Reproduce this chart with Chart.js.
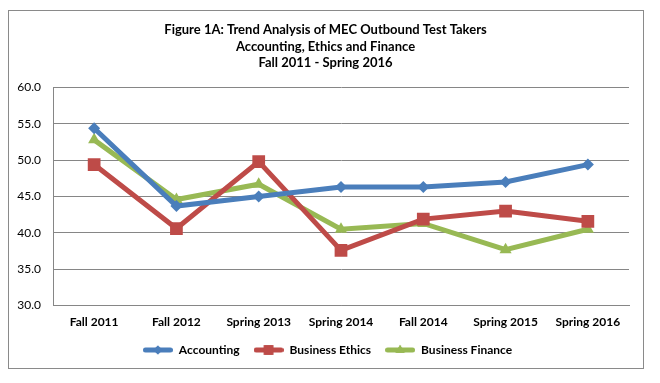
<!DOCTYPE html>
<html>
<head>
<meta charset="utf-8">
<script src="https://cdn.jsdelivr.net/npm/chart.js@4"></script>
<style>
html,body{margin:0;padding:0;background:#fff;}
#wrap{width:660px;height:383px;position:relative;}
</style>
</head>
<body>
<div id="wrap"><canvas id="c" width="660" height="383"></canvas></div>
<script>
const categories = ["Fall 2011","Fall 2012","Spring 2013","Spring 2014","Fall 2014","Spring 2015","Spring 2016"];
const accounting = [54.4, 43.7, 45.0, 46.3, 46.3, 47.0, 49.4];
const businessEthics = [49.4, 40.6, 49.8, 37.6, 41.9, 43.0, 41.6];
const businessFinance = [52.8, 44.6, 46.7, 40.5, 41.3, 37.7, 40.5];
const yTicks = [30, 35, 40, 45, 50, 55, 60];
const titleLines = ["Figure 1A: Trend Analysis of MEC Outbound Test Takers","Accounting, Ethics and Finance","Fall 2011 - Spring 2016"];

const BLUE = '#4A7EBB', RED = '#BE4B48', GREEN = '#98B954';
const FONT = "Lato, 'Liberation Sans', sans-serif";

function legendIcon(color, style, r) {
  const cv = document.createElement('canvas');
  cv.width = 30; cv.height = 16;
  const g = cv.getContext('2d');
  g.strokeStyle = color; g.lineWidth = 5; g.lineCap = 'round';
  g.beginPath(); g.moveTo(2.5, 8); g.lineTo(27.5, 8); g.stroke();
  g.fillStyle = color;
  Chart.helpers.drawPoint(g, {pointStyle: style, radius: r, rotation: 0, borderWidth: 0}, 15, 8);
  g.fill();
  return cv;
}

const borderPlugin = {
  id: 'outerBorder',
  afterLayout(chart) {
    if (chart.titleBlock) { chart.titleBlock.left += 6; chart.titleBlock.right += 6; }
    if (chart.legend) { chart.legend.left += 8; chart.legend.right += 8; }
  },
  beforeDraw(chart) {
    const ctx = chart.ctx;
    ctx.save();
    ctx.fillStyle = '#fff';
    ctx.fillRect(0, 0, chart.width, chart.height);
    ctx.strokeStyle = '#8a8a8a';
    ctx.lineWidth = 1;
    ctx.strokeRect(8.5, 10.5, 635, 358);
    ctx.restore();
  }
};

const ds = (label, data, color, style, r) => ({
  label, data,
  borderColor: color, backgroundColor: color,
  borderWidth: 5,
  pointStyle: style, pointRadius: r, pointHoverRadius: r,
  pointBackgroundColor: color, pointBorderColor: color, pointBorderWidth: 0,
  tension: 0, fill: false
});

const icons = {};

new Chart(document.getElementById('c'), {
  type: 'line',
  data: {
    labels: categories,
    datasets: [
      ds('Accounting', accounting, BLUE, 'rectRot', 6),
      ds('Business Ethics', businessEthics, RED, 'rect', 9),
      ds('Business Finance', businessFinance, GREEN, 'triangle', 7)
    ]
  },
  options: {
    responsive: false,
    animation: false,
    devicePixelRatio: 1,
    layout: { padding: { left: 10, right: 31, top: 0, bottom: 17 } },
    plugins: {
      title: {
        display: true,
        text: titleLines,
        color: '#000',
        font: { family: FONT, size: 13, weight: 'bold', lineHeight: 1.27 },
        padding: { top: 22, bottom: 16 }
      },
      legend: {
        display: true,
        position: 'bottom',
        labels: {
          color: '#000',
          font: { family: FONT, size: 12, weight: 'bold' },
          usePointStyle: true,
          pointStyleWidth: 30,
          padding: 14,
          generateLabels(chart) {
            return chart.data.datasets.map((d, i) => {
              const key = d.label;
              if (!icons[key]) icons[key] = legendIcon(d.borderColor, d.pointStyle, d.pointRadius * 0.75);
              return {
                text: d.label, fillStyle: d.borderColor, strokeStyle: d.borderColor,
                lineWidth: 0, pointStyle: icons[key], hidden: false, datasetIndex: i, fontColor: '#000'
              };
            });
          }
        }
      },
      tooltip: { enabled: false }
    },
    scales: {
      x: {
        offset: true,
        afterFit(scale) { scale.height = scale.height - 8; },
        grid: { display: false, drawTicks: false },
        border: { display: true, color: '#868686', width: 1 },
        ticks: { color: '#000', font: { family: FONT, size: 12, weight: 'bold' }, padding: 9, maxRotation: 0, autoSkip: false }
      },
      y: {
        min: 30, max: 60,
        afterFit(scale) { scale.width = 43; },
        afterBuildTicks(scale) { scale.ticks = yTicks.map(v => ({ value: v })); },
        grid: { color: '#868686', lineWidth: 1, drawTicks: false },
        border: { display: true, color: '#868686', width: 1 },
        ticks: { color: '#000', font: { family: FONT, size: 12 }, padding: 12, callback: v => Number(v).toFixed(1) }
      }
    }
  },
  plugins: [borderPlugin]
});
</script>
</body>
</html>
